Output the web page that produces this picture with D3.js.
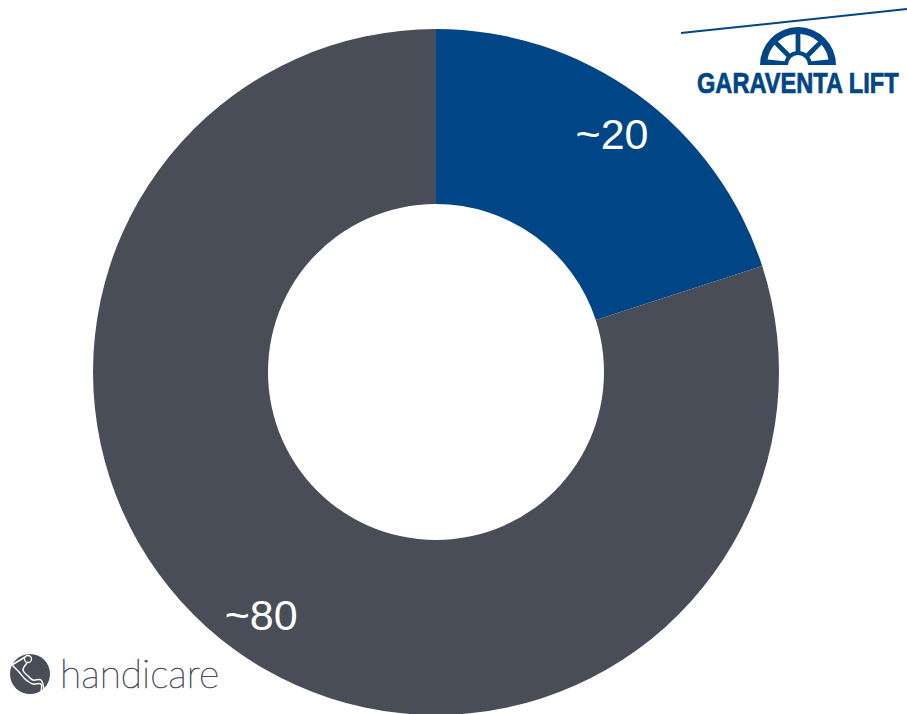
<!DOCTYPE html>
<html>
<head>
<meta charset="utf-8">
<script src="https://cdn.jsdelivr.net/npm/d3@7"></script>
<style>
html,body{margin:0;padding:0;background:#fff;overflow:hidden}
svg{display:block}
</style>
</head>
<body>
<svg id="chart" width="907" height="714"></svg>
<script>
// Market share split shown as a donut
const categories = ["Garaventa Lift", "Handicare"];
const shares = [20, 80];
const shareLabels = ["~20", "~80"];
const sliceColors = ["#004586", "#484d57"];

const width = 907, height = 714;
const cx = 436, cy = 372, outerR = 343, innerR = 168;
const blue = "#004586", slate = "#484d57";

const svg = d3.select("#chart");

const pie = d3.pie().sort(null).value(d => d);
const arc = d3.arc().innerRadius(innerR).outerRadius(outerR);
const color = d3.scaleOrdinal().domain(categories).range(sliceColors);

const donut = svg.append("g").attr("transform", `translate(${cx},${cy})`);
const arcs = pie(shares);

donut.selectAll("path").data(arcs).join("path")
  .attr("d", arc)
  .attr("fill", (d, i) => color(categories[i]));

// Value labels, placed at a chosen angle and radius inside each ring
const labelSpots = [{a: 0.637, r: 296}, {a: 3.765, r: 299.5}];
donut.selectAll("text").data(arcs).join("text")
  .attr("x", (d, i) => Math.sin(labelSpots[i].a) * labelSpots[i].r)
  .attr("y", (d, i) => -Math.cos(labelSpots[i].a) * labelSpots[i].r)
  .attr("text-anchor", "middle")
  .attr("dy", "0.35em")
  .attr("fill", "#fff")
  .attr("font-family", "'Liberation Sans', Arial, sans-serif")
  .attr("font-size", 43)
  .text((d, i) => shareLabels[i]);

// Fits a text to a given box by scaling its natural size
function fitText(sel, x, baseline, boxWidth, yScale) {
  const natural = sel.node().getBBox().width;
  sel.attr("transform", `translate(${x},${baseline}) scale(${boxWidth / natural},${yScale})`);
}

// Garaventa Lift mark: rule, half wheel, wordmark
const gl = svg.append("g");
gl.append("line")
  .attr("x1", 681).attr("y1", 33).attr("x2", 907).attr("y2", 9)
  .attr("stroke", blue).attr("stroke-width", 2);

const wheel = gl.append("g").attr("transform", "translate(798,65)");
const deg = Math.PI / 180;
wheel.append("path")
  .attr("d", d3.arc()({innerRadius: 10, outerRadius: 38, startAngle: -90 * deg, endAngle: 90 * deg}))
  .attr("fill", blue);
const windowAngles = [[-84, -45], [-45, 0], [0, 45], [45, 84]];
wheel.selectAll("path.window").data(windowAngles).join("path")
  .attr("class", "window")
  .attr("d", d => d3.arc()({innerRadius: 14, outerRadius: 31, startAngle: d[0] * deg, endAngle: d[1] * deg,
    padAngle: 0.14, padRadius: 31, cornerRadius: 2}))
  .attr("fill", "#fff");

const glWord = gl.append("text")
  .attr("fill", blue)
  .attr("stroke", blue).attr("stroke-width", 0.6)
  .attr("font-family", "'Liberation Sans', Arial, sans-serif")
  .attr("font-weight", 700)
  .attr("font-size", 24)
  .text("GARAVENTA LIFT");
fitText(glWord, 697, 92.5, 202, 1.2);

// Handicare mark: round badge with a seated figure, wordmark
const hc = svg.append("g");
hc.append("circle").attr("cx", 30).attr("cy", 674).attr("r", 20).attr("fill", slate);
const figureStrokes = [
  [[12, 665], [25, 657]],
  [[12, 665], [19, 672], [25, 679], [33, 684], [41, 684], [41, 692]],
  [[27, 663], [23, 670], [28, 676], [33, 680], [41, 680], [44, 691]]
];
hc.selectAll("path").data(figureStrokes).join("path")
  .attr("d", d3.line().curve(d3.curveCatmullRom))
  .attr("fill", "none").attr("stroke", "#fff").attr("stroke-width", 1.5);
hc.append("circle").attr("cx", 28).attr("cy", 659).attr("r", 3.5)
  .attr("fill", "none").attr("stroke", "#fff").attr("stroke-width", 1.3);

const hcWord = hc.append("text")
  .attr("fill", slate)
  .attr("stroke", slate).attr("stroke-width", 0.7)
  .attr("font-family", "Lato, 'Open Sans', sans-serif")
  .attr("font-weight", 100)
  .attr("font-size", 40)
  .text("handicare");
fitText(hcWord, 60, 688, 159, 1);
</script>
</body>
</html>
